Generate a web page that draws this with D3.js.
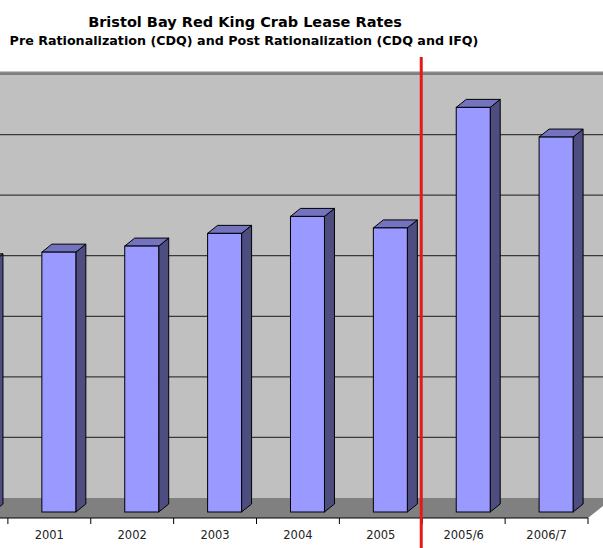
<!DOCTYPE html>
<html>
<head>
<meta charset="utf-8">
<script src="https://cdn.jsdelivr.net/npm/d3@7"></script>
<style>
  body { margin: 0; background: #fff; }
  text { font-family: "DejaVu Sans", Verdana, sans-serif; }
</style>
</head>
<body>
<div id="chartArea"></div>
<script>
// Lease rate (% of ex-vessel value) per season
let seasons = ['2000', '2001', '2002', '2003', '2004', '2005', '2005/6', '2006/7'];
let leaseRates = [41.3, 42.9, 43.9, 46.0, 48.8, 46.9, 66.8, 61.9];
let gridTicks = [0, 10, 20, 30, 40, 50, 60, 70];
let splitBefore = '2005/6';

let width = 603, height = 548;

// 3D projection offsets
let floorDx = 25, floorDy = 20;   // front of floor vs back wall
let barDx = 10, barDy = 8;        // bar depth
let barFrontDy = 14;              // bar front plane below back wall

let svg = d3.select('#chartArea')
    .append('svg')
        .attr('width', width)
        .attr('height', height);

let xScale = d3.scaleBand()
    .domain(seasons)
    .range([-75, 588]);

let yScale = d3.scaleLinear()
    .domain([0, 70])
    .range([498, 74]);

let bw = xScale.bandwidth();
let left = xScale.range()[0], right = xScale.range()[1];
let floorBack = yScale(0), floorFront = yScale(0) + floorDy;

// back wall
svg.append('rect')
    .attr('x', left + floorDx)
    .attr('y', yScale(70))
    .attr('width', right - left)
    .attr('height', floorBack - yScale(70))
    .attr('fill', '#c0c0c0');

svg.append('line')
    .attr('x1', left + floorDx).attr('x2', right + floorDx)
    .attr('y1', yScale(70) - 1.5).attr('y2', yScale(70) - 1.5)
    .attr('stroke', '#8a8a8a')
    .attr('stroke-width', 2);

// gridlines
svg.selectAll('.grid')
    .data(gridTicks.filter(d => d > 0))
    .enter().append('line')
        .attr('class', 'grid')
        .attr('x1', left + floorDx).attr('x2', right + floorDx)
        .attr('y1', d => yScale(d)).attr('y2', d => yScale(d))
        .attr('stroke', '#3a3a3a')
        .attr('stroke-width', 1.2);

// floor
svg.append('path')
    .attr('d', 'M' + left + ',' + floorFront + 'L' + right + ',' + floorFront +
        'L' + (right + floorDx) + ',' + floorBack + 'L' + (left + floorDx) + ',' + floorBack + 'Z')
    .attr('fill', '#808080');

svg.append('line')
    .attr('x1', left).attr('x2', right)
    .attr('y1', floorFront).attr('y2', floorFront)
    .attr('stroke', '#000')
    .attr('stroke-width', 1.2);

// bars
let bars = svg.selectAll('.bar')
    .data(seasons.map((s, i) => ({ season: s, value: leaseRates[i] })))
    .enter().append('g')
        .attr('class', 'bar');

function barGeom(d) {
    let x0 = xScale(d.season) + bw * 0.41;
    let x1 = x0 + bw * 0.41;
    let top = yScale(d.value) + barFrontDy;
    let bottom = yScale(0) + barFrontDy;
    return { x0, x1, top, bottom };
}

bars.append('path')
    .attr('d', d => {
        let g = barGeom(d);
        return 'M' + g.x1 + ',' + g.top + 'L' + (g.x1 + barDx) + ',' + (g.top - barDy) +
            'L' + (g.x1 + barDx) + ',' + (g.bottom - barDy) + 'L' + g.x1 + ',' + g.bottom + 'Z';
    })
    .attr('fill', '#4d4d80')
    .attr('stroke', '#000')
    .attr('stroke-width', 1)
    .attr('stroke-linejoin', 'round');

bars.append('path')
    .attr('d', d => {
        let g = barGeom(d);
        return 'M' + g.x0 + ',' + g.top + 'L' + (g.x0 + barDx) + ',' + (g.top - barDy) +
            'L' + (g.x1 + barDx) + ',' + (g.top - barDy) + 'L' + g.x1 + ',' + g.top + 'Z';
    })
    .attr('fill', '#7373bf')
    .attr('stroke', '#000')
    .attr('stroke-width', 1)
    .attr('stroke-linejoin', 'round');

bars.append('rect')
    .attr('x', d => barGeom(d).x0)
    .attr('y', d => barGeom(d).top)
    .attr('width', bw * 0.41)
    .attr('height', d => barGeom(d).bottom - barGeom(d).top)
    .attr('fill', '#9999ff')
    .attr('stroke', '#000')
    .attr('stroke-width', 1);

// category axis (labels of seasons cut off by the crop are left out)
let xAxis = svg.append('g')
    .attr('transform', 'translate(0,' + floorFront + ')')
    .call(d3.axisBottom(xScale).tickSize(0).tickPadding(13));
xAxis.select('.domain').remove();
xAxis.selectAll('.tick')
    .filter(d => xScale(d) + bw / 2 < 20)
    .remove();
xAxis.selectAll('text')
    .attr('font-size', 11.5)
    .attr('font-family', '"DejaVu Sans", Verdana, sans-serif')
    .attr('fill', '#222');

svg.selectAll('.tick-mark')
    .data(seasons.concat(['end']))
    .enter().append('line')
        .attr('class', 'tick-mark')
        .attr('x1', (d, i) => left + i * bw).attr('x2', (d, i) => left + i * bw)
        .attr('y1', floorFront).attr('y2', floorFront + 6)
        .attr('stroke', '#000');

// pre / post rationalization divider
svg.append('line')
    .attr('x1', xScale(splitBefore) - 1).attr('x2', xScale(splitBefore) - 1)
    .attr('y1', 57).attr('y2', height)
    .attr('stroke', '#e41a1a')
    .attr('stroke-width', 3);

// titles
svg.append('text')
    .attr('x', 245).attr('y', 27)
    .attr('text-anchor', 'middle')
    .attr('font-weight', 'bold')
    .attr('font-size', 14.5)
    .text('Bristol Bay Red King Crab Lease Rates');

svg.append('text')
    .attr('x', 244).attr('y', 45)
    .attr('text-anchor', 'middle')
    .attr('font-weight', 'bold')
    .attr('font-size', 12.7)
    .text('Pre Rationalization (CDQ) and Post Rationalization (CDQ and IFQ)');
</script>
</body>
</html>
